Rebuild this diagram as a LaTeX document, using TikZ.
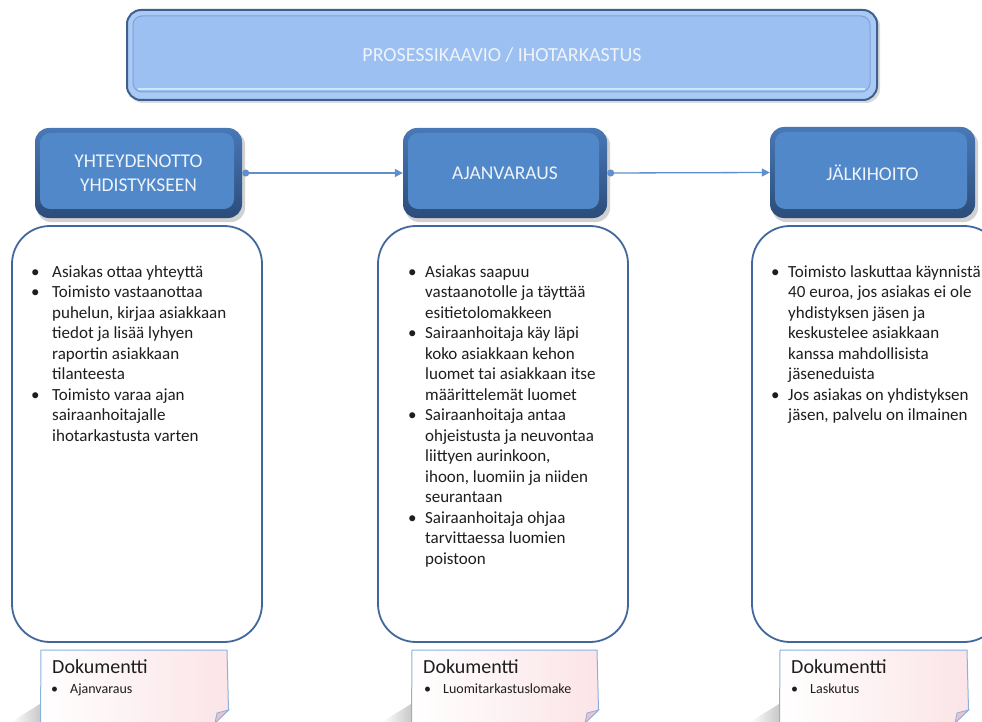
\documentclass[tikz,border=0pt]{standalone}
\usepackage{fontspec}
\setmainfont{Carlito}
\usetikzlibrary{arrows.meta}

\definecolor{titleface}{HTML}{9CC0F1}
\definecolor{titleedge}{HTML}{3F5F8E}
\definecolor{titlering}{HTML}{A9CAF4}
\definecolor{titleinner}{HTML}{7FA2D6}
\definecolor{titlehl}{HTML}{C9EAFD}
\definecolor{hdrface}{HTML}{5088CA}
\definecolor{hdrlight}{HTML}{4878B6}
\definecolor{hdrdark}{HTML}{2C4C79}
\definecolor{boxedge}{HTML}{41689C}
\definecolor{linkblue}{HTML}{5F8FCC}
\definecolor{noteedge}{HTML}{8DB1DF}
\definecolor{notepink}{HTML}{FBE4E7}
\definecolor{foldpink}{HTML}{E7C3D0}
\definecolor{inktext}{HTML}{1E1E1E}
\definecolor{lighttext}{HTML}{EEF3FA}

\newlength\bulw
\newcommand\bul[1]{\makebox[\bulw][l]{\textbullet}#1}
\newcommand\cont[1]{\hspace*{\bulw}#1}

% bevelled process header: name, x1, y1, x2, y2, text
\newcommand\hdr[6]{%
  \fill[black,opacity=.18,rounded corners=14] (#2+2,#3+3) rectangle (#4+3,#5+4);
  \shade[rounded corners=14,top color=hdrlight,bottom color=hdrdark] (#2,#3) rectangle (#4,#5);
  \fill[hdrface,rounded corners=10] (#2+5,#3+5) rectangle (#4-8,#5-9);
  \node[hdrtext,minimum width={#4-#2},minimum height={#5-#3}] (#1) at ({(#2+#4)/2},{(#3+#5)/2}) {#6};}

% document note with folded corner: left x, right x
\newcommand\docnote[2]{%
  \shade[left color=white,right color=black!22] (#1-30,722) -- (#1-1,704) -- (#1,722) -- cycle;
  \shade[left color=white,right color=notepink,draw=noteedge,line width=1]
    (#1,650) -- (#2,650) -- (#2+1.5,710) -- (#2-12,723) -- (#1-0.5,723) -- cycle;
  \filldraw[fill=foldpink,draw=noteedge,line width=.8] (#2+1.5,710) -- (#2-10,713) -- (#2-12,723) -- cycle;}

\tikzset{
  hdrtext/.style={inner sep=0,align=center,text=lighttext,
    font=\fontsize{19.5}{24.5}\selectfont},
  cbox/.style={draw=boxedge,line width=1.8,fill=white,rounded corners=38,
    minimum width=250,minimum height=416,inner sep=0},
  bodytext/.style={anchor=north west,inner sep=0,align=left,text=inktext,
    font=\fontsize{17}{20.5}\selectfont},
  notehead/.style={anchor=base west,inner sep=0,text=inktext,
    font=\fontsize{20}{22}\selectfont},
  noteitem/.style={anchor=base west,inner sep=0,text=inktext,
    font=\fontsize{14}{16}\selectfont},
  link/.style={draw=linkblue,line width=1.3,
    {Circle[length=7,width=7]}-{Triangle[length=8,width=8]}}
}

\begin{document}
\begin{tikzpicture}[x=1pt,y=-1pt]
\clip (0,0) rectangle (982,722);
\fill[white] (0,0) rectangle (982,722);

% title banner
\fill[black,opacity=.15,rounded corners=14] (129,12) rectangle (880,103);
\filldraw[fill=titlering,draw=titleedge,line width=2,rounded corners=14] (127,10) rectangle (877,100);
\filldraw[fill=titleface,draw=titleinner,line width=1,rounded corners=9] (133,16) rectangle (870,92);
\draw[titlehl,line width=2] (138,89.5) -- (865,89.5);
\node[inner sep=0,text=lighttext,font=\fontsize{20}{24}\selectfont] (title) at (502,55) {PROSESSIKAAVIO / IHOTARKASTUS};

% process headers
\hdr{h1}{35}{128}{242}{218}{YHTEYDENOTTO\\YHDISTYKSEEN}
\hdr{h2}{403}{128}{607}{218}{AJANVARAUS}
\hdr{h3}{770}{127}{975}{218}{JÄLKIHOITO}

\draw[link] (h1.east) -- (h2.west);
\draw[link] (h2.east) -- (h3.west);

% step descriptions
\node[cbox] (c1) at (137,434) {};
\node[cbox] (c2) at (503,434) {};
\node[cbox] (c3) at (877,434) {};

\node[bodytext] (t1) at (31,262.6) {\global\bulw=21pt
\bul{\strut Asiakas ottaa yhteyttä}\\
\bul{Toimisto vastaanottaa}\\
\cont{puhelun, kirjaa asiakkaan}\\
\cont{tiedot ja lisää lyhyen}\\
\cont{raportin asiakkaan}\\
\cont{tilanteesta}\\
\bul{Toimisto varaa ajan}\\
\cont{sairaanhoitajalle}\\
\cont{ihotarkastusta varten}};

\node[bodytext] (t2) at (408,262.6) {\global\bulw=17pt
\bul{\strut Asiakas saapuu}\\
\cont{vastaanotolle ja täyttää}\\
\cont{esitietolomakkeen}\\
\bul{Sairaanhoitaja käy läpi}\\
\cont{koko asiakkaan kehon}\\
\cont{luomet tai asiakkaan itse}\\
\cont{määrittelemät luomet}\\
\bul{Sairaanhoitaja antaa}\\
\cont{ohjeistusta ja neuvontaa}\\
\cont{liittyen aurinkoon,}\\
\cont{ihoon, luomiin ja niiden}\\
\cont{seurantaan}\\
\bul{Sairaanhoitaja ohjaa}\\
\cont{tarvittaessa luomien}\\
\cont{poistoon}};

\node[bodytext] (t3) at (771,262.6) {\global\bulw=17pt
\bul{\strut Toimisto laskuttaa käynnistä}\\
\cont{40 euroa, jos asiakas ei ole}\\
\cont{yhdistyksen jäsen ja}\\
\cont{keskustelee asiakkaan}\\
\cont{kanssa mahdollisista}\\
\cont{jäseneduista}\\
\bul{Jos asiakas on yhdistyksen}\\
\cont{jäsen, palvelu on ilmainen}};

% documents
\docnote{41}{227}
\docnote{412}{597}
\docnote{780}{967}

\node[notehead] (d1) at (52,673) {Dokumentti};
\node[notehead] (d2) at (423,673) {Dokumentti};
\node[notehead] (d3) at (791,673) {Dokumentti};
\node[noteitem] (i1) at (51,693) {\makebox[19pt][l]{\textbullet}Ajanvaraus};
\node[noteitem] (i2) at (424,693) {\makebox[19pt][l]{\textbullet}Luomitarkastuslomake};
\node[noteitem] (i3) at (791,693) {\makebox[19pt][l]{\textbullet}Laskutus};
\end{tikzpicture}
\end{document}
